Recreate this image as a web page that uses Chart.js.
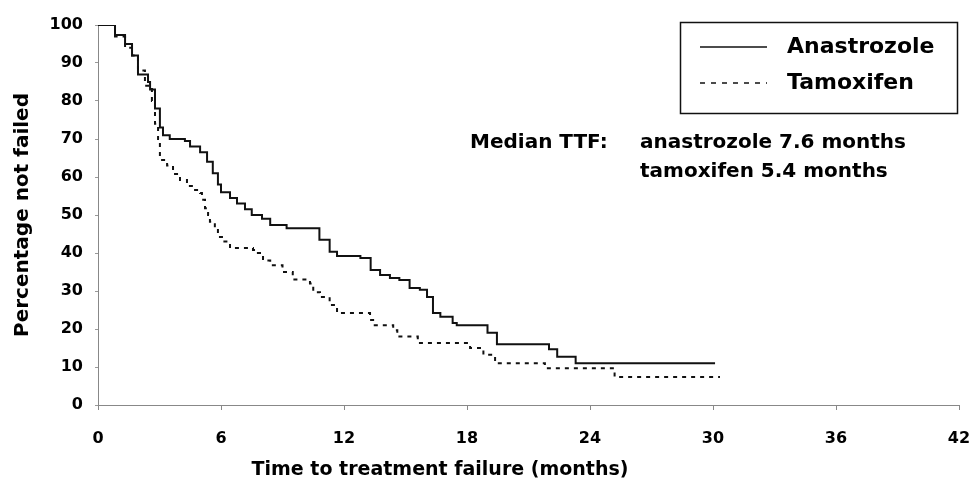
<!DOCTYPE html>
<html>
<head>
<meta charset="utf-8">
<script src="https://cdn.jsdelivr.net/npm/chart.js@4.4.1/dist/chart.umd.min.js"></script>
<style>
  html, body { margin: 0; padding: 0; background: #fff; }
  #wrap { width: 971px; height: 485px; }
</style>
</head>
<body>
<div id="wrap"><canvas id="myChart" width="971" height="485"></canvas></div>
<script>
// Kaplan-Meier steps: time (months) and percentage not failed after each step
var anaTime = [0, 0.5, 0.83, 1.32, 1.66, 1.95, 2.44, 2.54, 2.78, 3.02, 3.17, 3.5, 4.24, 4.49, 4.98, 5.32, 5.6, 5.85, 6.0, 6.44, 6.78, 7.17, 7.5, 8.0, 8.4, 9.2, 10.6, 10.8, 11.3, 11.66, 12.8, 13.3, 13.76, 14.24, 14.7, 15.2, 15.7, 16.05, 16.34, 16.7, 17.3, 17.5, 19.0, 19.46, 22.0, 22.4, 23.3, 30.1];
var anaPct  = [100, 100, 97.4, 95, 92, 87, 85, 83, 78, 73, 71, 70, 69.5, 68, 66.5, 64, 61, 58, 56, 54.5, 53, 51.5, 50, 49, 47.4, 46.5, 46.5, 43.5, 40.3, 39.2, 38.7, 35.5, 34.2, 33.4, 32.9, 30.8, 30.3, 28.4, 24.2, 23.2, 21.6, 21, 19, 16, 14.7, 12.7, 11, 11];

var tamTime = [0, 0.5, 0.83, 1.32, 1.66, 1.95, 2.29, 2.63, 2.78, 2.93, 3.02, 3.37, 3.66, 4.0, 4.34, 4.63, 4.98, 5.07, 5.22, 5.37, 5.46, 5.7, 5.85, 6.1, 6.44, 7.56, 7.8, 8.05, 8.4, 9.0, 9.5, 10.34, 10.5, 10.83, 11.3, 11.66, 13.1, 13.27, 13.5, 14.4, 14.6, 15.4, 15.6, 18.0, 18.15, 18.8, 19.37, 21.8, 25.2, 30.34];
var tamPct  = [100, 100, 97, 94, 92, 88, 84, 80, 74, 70, 64.5, 63, 60.8, 59.2, 57.6, 56.6, 55.8, 54, 51.8, 50, 48.2, 46.6, 44.2, 43, 41.3, 40.8, 40, 38, 36.8, 35, 33, 32, 29.7, 28.4, 26.3, 24.2, 24.2, 22.4, 21, 19.7, 18, 18, 16.3, 16.3, 15, 13.2, 11, 9.7, 7.4, 7.4];

var seriesNames = ['Anastrozole', 'Tamoxifen'];
var xTicks = [0, 6, 12, 18, 24, 30, 36, 42];
var yTicks = [0, 10, 20, 30, 40, 50, 60, 70, 80, 90, 100];
var medianLines = ['anastrozole 7.6 months', 'tamoxifen 5.4 months'];

function toPoints(xs, ys) {
    return xs.map(function (x, i) { return { x: x, y: ys[i] }; });
}

var FONT = '"DejaVu Sans", Arial, sans-serif';

// legend box, median text and x title drawn straight onto the canvas
var extras = {
    id: 'extras',
    afterDraw: function (chart) {
        var ctx = chart.ctx;
        ctx.save();
        ctx.strokeStyle = '#111';
        ctx.lineWidth = 1.5;
        ctx.strokeRect(680.5, 22.5, 277, 91);

        ctx.lineWidth = 1.5;
        ctx.beginPath();
        ctx.moveTo(700, 47); ctx.lineTo(767, 47);
        ctx.stroke();
        ctx.setLineDash([5, 6]);
        ctx.beginPath();
        ctx.moveTo(700, 83); ctx.lineTo(767, 83);
        ctx.stroke();
        ctx.setLineDash([]);

        ctx.fillStyle = '#000';
        ctx.textBaseline = 'middle';
        ctx.textAlign = 'left';
        ctx.font = 'bold 22px ' + FONT;
        ctx.fillText(seriesNames[0], 787, 47);
        ctx.fillText(seriesNames[1], 787, 83);

        ctx.font = 'bold 20px ' + FONT;
        ctx.fillText('Median TTF:', 470, 143);
        ctx.fillText(medianLines[0], 640, 143);
        ctx.fillText(medianLines[1], 640, 172);

        ctx.textAlign = 'center';
        ctx.font = 'bold 19px ' + FONT;
        ctx.fillText('Time to treatment failure (months)', 440, 470);
        ctx.restore();
    }
};

var ctx = document.getElementById('myChart').getContext('2d');
var myChart = new Chart(ctx, {
    type: 'line',
    data: {
        datasets: [{
            label: seriesNames[0],
            data: toPoints(anaTime, anaPct),
            borderColor: '#111',
            borderWidth: 2,
            stepped: true,
            pointRadius: 0,
            fill: false
        }, {
            label: seriesNames[1],
            data: toPoints(tamTime, tamPct),
            borderColor: '#111',
            borderWidth: 2,
            borderDash: [4, 5],
            stepped: true,
            pointRadius: 0,
            fill: false
        }]
    },
    options: {
        responsive: false,
        animation: false,
        layout: { padding: { left: 0, right: 12, top: 25, bottom: 0 } },
        plugins: {
            legend: { display: false },
            tooltip: { enabled: false }
        },
        scales: {
            x: {
                type: 'linear',
                min: 0,
                max: 42,
                afterBuildTicks: function (scale) {
                    scale.ticks = xTicks.map(function (v) { return { value: v }; });
                },
                afterFit: function (scale) {
                    scale.height = 80;
                    scale.paddingLeft = 0;
                    scale.paddingRight = 0;
                },
                grid: { drawOnChartArea: false, drawTicks: true, tickLength: 5, color: '#888' },
                border: { display: true, color: '#888', width: 1 },
                ticks: {
                    color: '#000',
                    padding: 19,
                    maxRotation: 0,
                    font: { family: FONT, size: 16, weight: 'bold' }
                }
            },
            y: {
                min: 0,
                max: 100,
                afterBuildTicks: function (scale) {
                    scale.ticks = yTicks.map(function (v) { return { value: v }; });
                },
                afterFit: function (scale) {
                    scale.width = 98;
                    scale.paddingTop = 0;
                    scale.paddingBottom = 0;
                },
                grid: { drawOnChartArea: false, drawTicks: true, tickLength: 3, color: '#999' },
                border: { display: true, color: '#888', width: 1 },
                ticks: {
                    color: '#000',
                    padding: 12,
                    font: { family: FONT, size: 16, weight: 'bold' }
                },
                title: {
                    display: true,
                    text: 'Percentage not failed',
                    color: '#000',
                    padding: { top: 11, bottom: 0 },
                    font: { family: FONT, size: 20, weight: 'bold' }
                }
            }
        }
    },
    plugins: [extras]
});
</script>
</body>
</html>
